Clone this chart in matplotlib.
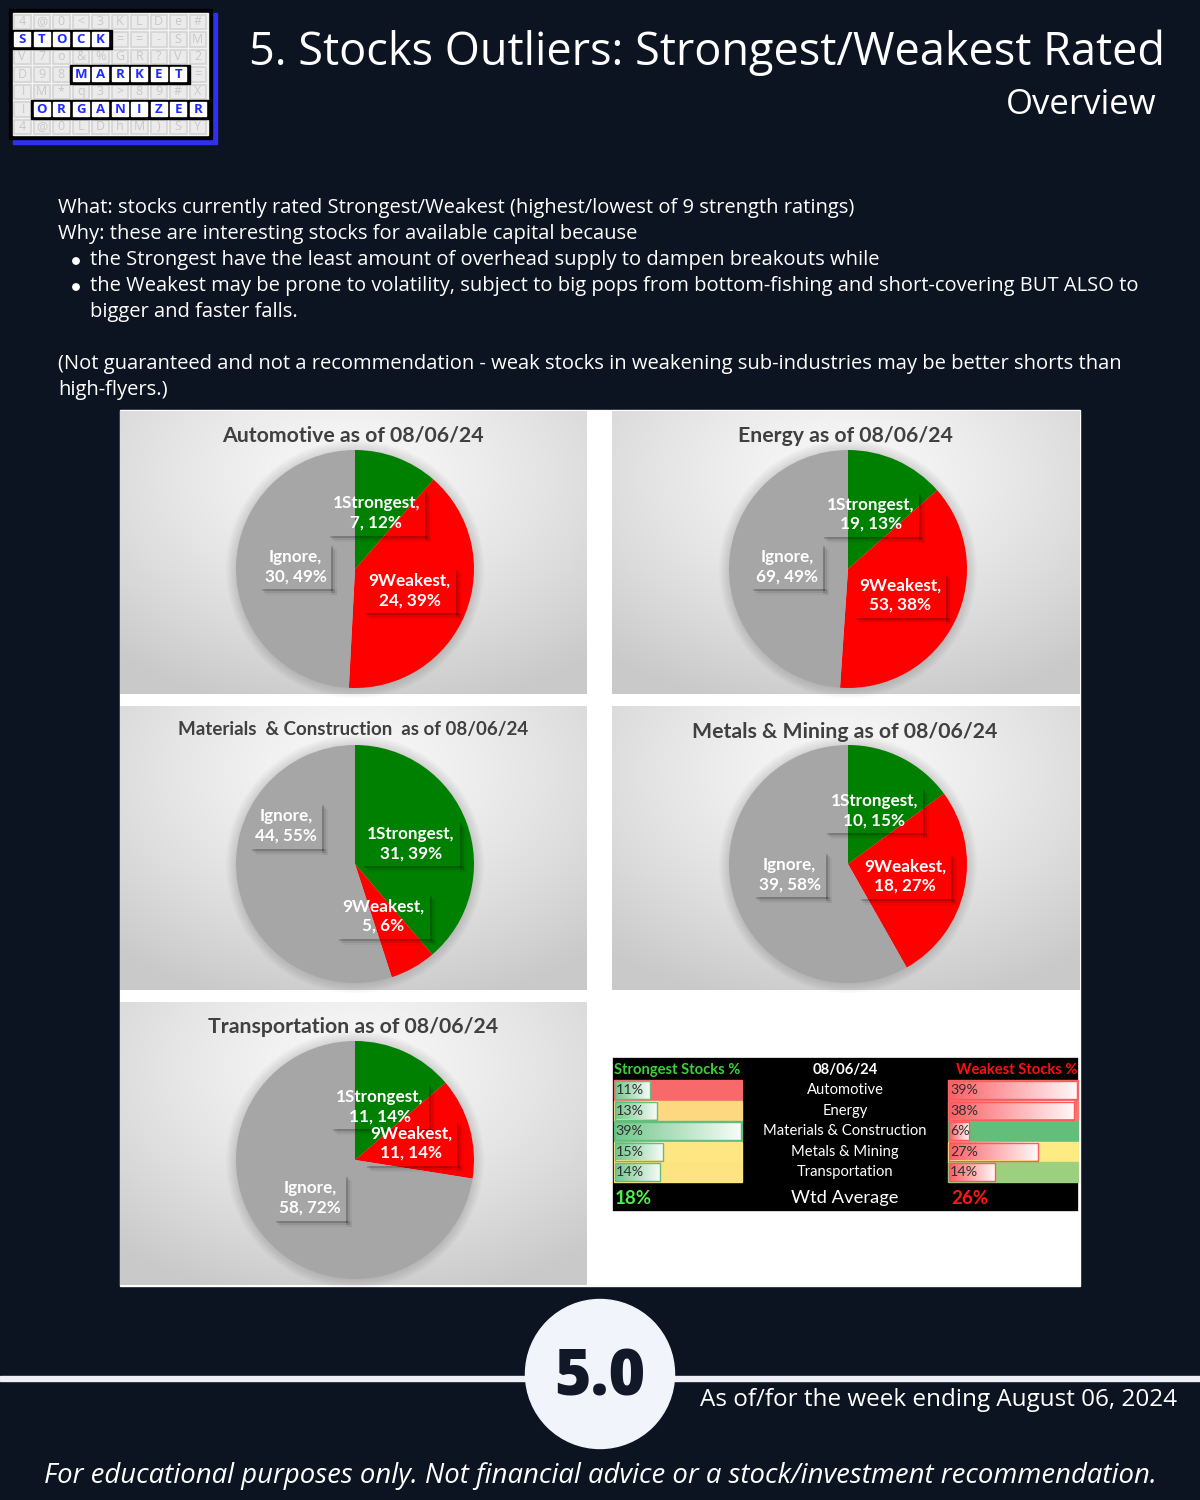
import numpy as np
import matplotlib
matplotlib.use('Agg')
import matplotlib.pyplot as plt
from matplotlib.patches import Rectangle, Circle
from matplotlib.transforms import IdentityTransform

# ---------------- data ----------------
sectors = ["Automotive", "Energy", "Materials & Construction", "Metals & Mining", "Transportation"]
pie_titles = ["Automotive as of 08/06/24", "Energy as of 08/06/24",
              "Materials  & Construction  as of 08/06/24", "Metals & Mining as of 08/06/24",
              "Transportation as of 08/06/24"]
slice_names = ["1Strongest", "9Weakest", "Ignore"]
strongest_counts = [7, 19, 31, 10, 11]
weakest_counts = [24, 53, 5, 18, 11]
ignore_counts = [30, 69, 44, 39, 58]
strongest_pct = [12, 13, 39, 15, 14]
weakest_pct = [39, 38, 6, 27, 14]
ignore_pct = [49, 49, 55, 58, 72]
table_date = "08/06/24"
table_strongest = [11, 13, 39, 15, 14]
table_weakest = [39, 38, 6, 27, 14]
wtd_strongest = 18
wtd_weakest = 26
score = "5.0"
week_text = "As of/for the week ending August 06, 2024"

# ---------------- style / layout ----------------
W, H = 1200, 1500
BG = '#0d1421'
GREEN, RED, GREY = '#008000', '#ff0000', '#a6a6a6'
SANS = ['Open Sans', 'DejaVu Sans']
CAL = ['Lato', 'DejaVu Sans']

fig = plt.figure(figsize=(12, 15), dpi=100, facecolor=BG)
ax = fig.add_axes([0, 0, 1, 1])
ax.set_xlim(0, W); ax.set_ylim(H, 0); ax.axis('off')

# ---------------- logo ----------------
ax.add_patch(Rectangle((13, 13), 204, 131, color='#3030f0', zorder=2))
ax.add_patch(Rectangle((9, 9), 203, 130, color='black', zorder=3))
ax.add_patch(Rectangle((13, 13), 195, 122, color='#f2f2f2', zorder=4))
bg_rows = ["4@0<3KLDe#", "STOCK==-SM", "V7o&%GR?V2", "D98MARKET=",
           "!M*q3>89#X", "!ORGANIZER", "4@0LDhM)SY"]
highlight = {1: (0, 5), 3: (3, 9), 5: (1, 10)}
cw, chh = 19.5, 17.5
lx0, ly0 = 12.5, 13.0
for r, row in enumerate(bg_rows):
    for c, chr_ in enumerate(row):
        cx = lx0 + (c + 0.5) * cw
        cy = ly0 + (r + 0.5) * chh
        hl = r in highlight and highlight[r][0] <= c < highlight[r][1]
        if not hl:
            ax.add_patch(Rectangle((cx - cw / 2 + 1.5, cy - chh / 2 + 1.5), cw - 3, chh - 3,
                                   facecolor='#ebebeb', edgecolor='#d4d4d4', lw=1.2, zorder=5))
            ax.text(cx, cy, chr_, color='#c8c8c8', fontsize=9, ha='center', va='center',
                    family=SANS, zorder=6)
for r, (a, b) in highlight.items():
    ax.add_patch(Rectangle((lx0 + a * cw - 1.5, ly0 + r * chh - 1), (b - a) * cw + 3, chh + 2,
                           color='black', zorder=7))
    for c in range(a, b):
        ax.add_patch(Rectangle((lx0 + c * cw + 1.8, ly0 + r * chh + 1.8), cw - 3.6, chh - 3.6,
                               color='white', zorder=8))
        ax.text(lx0 + (c + 0.5) * cw, ly0 + (r + 0.5) * chh, bg_rows[r][c], color='#1d2bff',
                fontsize=9.5, weight='bold', ha='center', va='center', family=SANS, zorder=9)

# ---------------- title ----------------
ax.text(1165, 53, "5. Stocks Outliers: Strongest/Weakest Rated", color='white', fontsize=32.5,
        ha='right', va='center', family=SANS)
ax.text(1157, 105, "Overview", color='white', fontsize=25, ha='right', va='center', family=SANS)

# ---------------- body text ----------------
body = [
    (58, 208, "What: stocks currently rated Strongest/Weakest (highest/lowest of 9 strength ratings)"),
    (58, 234, "Why: these are interesting stocks for available capital because"),
    (90, 260, "the Strongest have the least amount of overhead supply to dampen breakouts while"),
    (90, 286, "the Weakest may be prone to volatility, subject to big pops from bottom-fishing and short-covering BUT ALSO to"),
    (90, 312, "bigger and faster falls."),
    (58, 364, "(Not guaranteed and not a recommendation - weak stocks in weakening sub-industries may be better shorts than"),
    (58, 390, "high-flyers.)"),
]
for x, y, t in body:
    ax.text(x, y, t, color='white', fontsize=14.5, ha='left', va='center', family=SANS)
for y in (260, 286):
    ax.add_patch(Circle((76, y + 1), 3.2, color='white'))

# ---------------- panels ----------------
ax.add_patch(Rectangle((120, 410), 960, 876, color='white', zorder=1))
panels = [(120, 411, 587, 694), (612, 411, 1080, 694), (120, 706, 587, 990),
          (612, 706, 1080, 990), (120, 1002, 587, 1285)]


def gradient_panel(x0, y0, x1, y1):
    nx, ny = 240, 150
    xs = np.linspace(-1, 1, nx)
    ys = np.linspace(-1, 1, ny)
    X, Y = np.meshgrid(xs, ys)
    d = np.sqrt(X ** 2 + ((Y + 0.55) / 1.1) ** 2)
    d = np.clip(d / 1.55, 0, 1) ** 1.3
    c0 = np.array([0.975, 0.975, 0.975])
    c1 = np.array([0.79, 0.79, 0.79])
    img = c0 + (c1 - c0) * d[..., None]
    ax.imshow(img, extent=(x0, x1, y1, y0), aspect='auto', interpolation='bilinear', zorder=1.5)


for p in panels:
    gradient_panel(*p)
ax.set_xlim(0, W); ax.set_ylim(H, 0)

pie_centers = [(355, 569), (848, 569), (355, 864), (848, 864), (355, 1160)]
title_pos = [(353, 436, 15.3), (845, 436, 15.3), (353, 729, 13.5), (845, 732, 15.3), (353, 1027, 15.3)]
R = 119
# label offsets (in radius units) for Strongest, Weakest, Ignore
label_off = [
    [(0.18, 0.47), (0.46, -0.18), (-0.50, 0.02)],
    [(0.19, 0.46), (0.44, -0.22), (-0.51, 0.02)],
    [(0.47, 0.17), (0.24, -0.44), (-0.58, 0.32)],
    [(0.22, 0.45), (0.48, -0.10), (-0.49, -0.09)],
    [(0.21, 0.45), (0.47, 0.14), (-0.38, -0.32)],
]

for (tx, ty, fs), t in zip(title_pos, pie_titles):
    ax.text(tx, ty, t, color='#404040', fontsize=fs, weight='bold', ha='center', va='center',
            family=CAL, zorder=3)

label_texts = []
for i in range(5):
    cx, cy = pie_centers[i]
    for k in range(8):
        ax.add_patch(Circle((cx, cy), R + 1 + k * 1.3, color='black', alpha=0.016, zorder=2, lw=0))
    pax = fig.add_axes([(cx - R) / W, 1 - (cy + R) / H, 2 * R / W, 2 * R / H])
    vals = [strongest_counts[i], weakest_counts[i], ignore_counts[i]]
    pcts = [strongest_pct[i], weakest_pct[i], ignore_pct[i]]
    pax.pie(vals, colors=[GREEN, RED, GREY], startangle=90, counterclock=False,
            wedgeprops=dict(linewidth=0))
    pax.set_xlim(-1, 1); pax.set_ylim(-1, 1); pax.set_aspect('equal'); pax.axis('off')
    for j in range(3):
        ox, oy = label_off[i][j]
        t = pax.text(ox, oy, f"{slice_names[j]},\n{vals[j]}, {pcts[j]}%", color='white',
                     fontsize=12.3, weight='bold', ha='center', va='center', family=CAL,
                     linespacing=1.25, zorder=10, clip_on=False)
        label_texts.append((pax, t))

# ---------------- table ----------------
tx0, ty0, tx1, ty1 = 612, 1057, 1079, 1212
ax.add_patch(Rectangle((tx0, ty0), tx1 - tx0, ty1 - ty0, facecolor='black', edgecolor='white',
                       lw=1.2, zorder=3))
ax.text(614, 1070, "Strongest Stocks %", color='#3ccf3c', fontsize=10.6, weight='bold',
        ha='left', va='center', family=CAL, zorder=5)
ax.text(845, 1070, table_date, color='white', fontsize=10.6, weight='bold', ha='center',
        va='center', family=CAL, zorder=5)
ax.text(1077, 1070, "Weakest Stocks %", color='#ff1010', fontsize=10.6, weight='bold',
        ha='right', va='center', family=CAL, zorder=5)

row_y = [1080, 1100.5, 1121, 1141.5, 1162]
row_h = 20.5
left_bg = ['#f8696b', '#fdd880', '#63be7b', '#fee683', '#fde481']
right_bg = ['#f8696b', '#f8756e', '#63be7b', '#ffeb84', '#9ccf7e']
lcx0, lcx1 = 613.5, 742
rcx0, rcx1 = 948, 1078
smax = max(table_strongest)
wmax = max(table_weakest)


def grad_bar(x0, y0, w, h, rgb, edge):
    n = 64
    t = np.linspace(0, 1, n)
    c = np.array(rgb)
    img = (c[None, :] * (1 - t[:, None] * 0.95) + np.ones(3)[None, :] * t[:, None] * 0.95)[None, :, :]
    ax.imshow(img, extent=(x0, x0 + w, y0 + h, y0), aspect='auto', interpolation='bilinear', zorder=4.2)
    ax.add_patch(Rectangle((x0, y0), w, h, facecolor='none', edgecolor=edge, lw=1.0, zorder=4.3))


for i in range(5):
    y = row_y[i]
    ax.add_patch(Rectangle((lcx0, y), lcx1 - lcx0, row_h - 0.5, color=left_bg[i], zorder=4))
    ax.add_patch(Rectangle((rcx0, y), rcx1 - rcx0, row_h - 0.5, color=right_bg[i], zorder=4))
    grad_bar(lcx0 + 1, y + 1, (lcx1 - lcx0 - 2) * table_strongest[i] / smax, row_h - 2.5,
             (0.45, 0.78, 0.55), '#63be7b')
    grad_bar(rcx0 + 1, y + 1, (rcx1 - rcx0 - 2) * table_weakest[i] / wmax, row_h - 2.5,
             (0.98, 0.38, 0.40), '#ff5a5a')
    ax.text(lcx0 + 2, y + row_h / 2, f"{table_strongest[i]}%", color='#303030', fontsize=10.3,
            ha='left', va='center', family=CAL, zorder=5)
    ax.text(rcx0 + 2, y + row_h / 2, f"{table_weakest[i]}%", color='#303030', fontsize=10.3,
            ha='left', va='center', family=CAL, zorder=5)
    ax.text(845, y + row_h / 2, sectors[i], color='white', fontsize=10.6, ha='center',
            va='center', family=CAL, zorder=5)
ax.set_xlim(0, W); ax.set_ylim(H, 0)

ax.text(615, 1198, f"{wtd_strongest}%", color='#4cf04c', fontsize=13.5, weight='bold',
        ha='left', va='center', family=CAL, zorder=5)
ax.text(845, 1198, "Wtd Average", color='white', fontsize=13.2, ha='center', va='center',
        family=CAL, zorder=5)
ax.text(951, 1198, f"{wtd_weakest}%", color='#ff1515', fontsize=13.5, weight='bold',
        ha='left', va='center', family=CAL, zorder=5)

# ---------------- footer ----------------
ax.add_patch(Rectangle((0, 1376), W, 5, color='#eef0f5', zorder=2))
ax.add_patch(Circle((600, 1374), 74.5, color='#f1f4fa', zorder=3))
ax.text(600, 1378, score, color='#111827', fontsize=45, weight='heavy', ha='center',
        va='center', family=SANS, zorder=4)
ax.text(1177, 1400, week_text, color='white', fontsize=17.5, ha='right', va='center',
        family=SANS, zorder=4)
ax.text(600, 1476, "For educational purposes only. Not financial advice or a stock/investment recommendation.",
        color='white', fontsize=19.8, style='italic', ha='center', va='center', family=SANS)

# ---------------- label box shadows ----------------
fig.canvas.draw()
renderer = fig.canvas.get_renderer()
for pax, t in label_texts:
    bb = t.get_window_extent(renderer)
    px, py = 5, 5
    x0, x1 = bb.x0 - px, bb.x1 + px
    y0, y1 = bb.y0 - py, bb.y1 + py
    for dd, al in ((2, 0.16), (4, 0.08), (6, 0.04)):
        pax.add_patch(Rectangle((x1, y0 - dd), dd, (y1 - y0), transform=IdentityTransform(),
                                color='black', alpha=al, lw=0, zorder=9, clip_on=False))
        pax.add_patch(Rectangle((x0 + dd, y0 - dd), (x1 - x0), dd, transform=IdentityTransform(),
                                color='black', alpha=al, lw=0, zorder=9, clip_on=False))

fig.savefig('out.png', dpi=100, facecolor=BG)
